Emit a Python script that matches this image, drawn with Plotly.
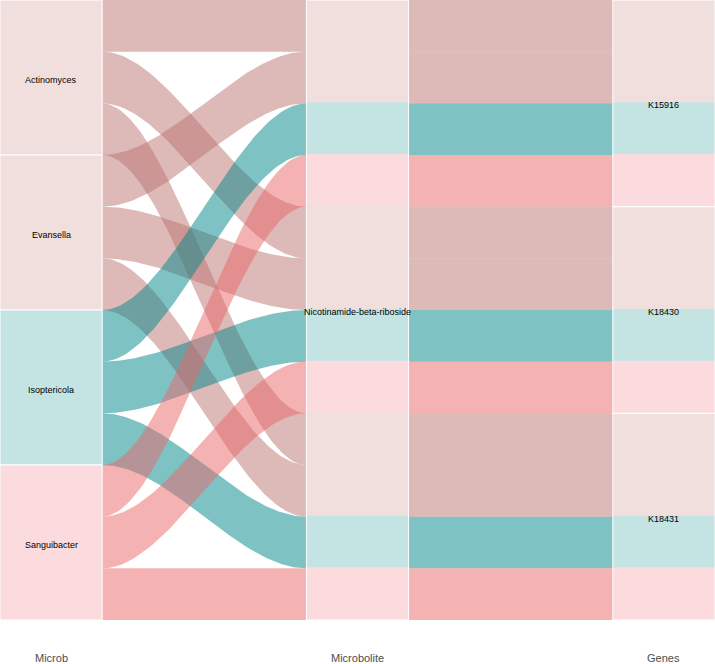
import numpy as np
import plotly.graph_objects as go

# ---------------- data ----------------
axes_names = ["Microb", "Microbolite", "Genes"]
microbes = ["Actinomyces", "Evansella", "Isoptericola", "Sanguibacter"]
microbolites = ["Nicotinamide-beta-riboside"]
genes = ["K15916", "K18430", "K18431"]
# one flow for every microbe x gene combination, weight 1
flow_microb = ["Actinomyces"] * 3 + ["Evansella"] * 3 + ["Isoptericola"] * 3 + ["Sanguibacter"] * 3
flow_gene = ["K15916", "K18430", "K18431"] * 4
flow_weight = [1] * 12
microb_group = {"Actinomyces": "A", "Evansella": "A", "Isoptericola": "B", "Sanguibacter": "C"}

# ---------------- styles ----------------
flow_col = {"A": "rgba(187,115,113,0.5)", "B": "rgba(0,133,137,0.5)", "C": "rgba(233,101,103,0.5)"}
strat_col = {"A": "#F0DFDD", "B": "#C4E4E4", "C": "#FBDBDD"}
W = 1 / 3  # stratum width
FONT = "Liberation Sans, Arial, sans-serif"

n = len(flow_weight)
total = sum(flow_weight)

order1 = sorted(range(n), key=lambda i: (microbes.index(flow_microb[i]), genes.index(flow_gene[i])))
order23 = sorted(range(n), key=lambda i: (genes.index(flow_gene[i]), microbes.index(flow_microb[i])))

def cum(order):
    pos = {}
    y = 0
    for i in order:
        pos[i] = (y, y + flow_weight[i])
        y += flow_weight[i]
    return pos

p1 = cum(order1)
p23 = cum(order23)

fig = go.Figure()

def sig(t):
    return t * t * (3 - 2 * t)

t = np.linspace(0, 1, 80)
xa0, xa1 = 1 + W / 2, 2 - W / 2
xb0, xb1 = 2 + W / 2, 3 - W / 2

for i in order1:
    g = microb_group[flow_microb[i]]
    (a0, a1), (b0, b1) = p1[i], p23[i]
    s = sig(t)
    xs = xa0 + (xa1 - xa0) * t
    top = a0 + (b0 - a0) * s
    bot = a1 + (b1 - a1) * s
    X = np.concatenate([xs, xs[::-1]])
    Y = np.concatenate([top, bot[::-1]])
    fig.add_trace(go.Scatter(x=X, y=Y, fill="toself", mode="lines", line=dict(width=0),
                             fillcolor=flow_col[g], hoverinfo="skip", showlegend=False))

for i in order23:
    g = microb_group[flow_microb[i]]
    b0, b1 = p23[i]
    fig.add_trace(go.Scatter(x=[xb0, xb1, xb1, xb0, xb0], y=[b0, b0, b1, b1, b0], fill="toself",
                             mode="lines", line=dict(width=0), fillcolor=flow_col[g],
                             hoverinfo="skip", showlegend=False))

shapes = []
annotations = []
LAB = dict(family=FONT, size=9, color="black")
YS = -2

y = 0
for m in microbes:
    h = sum(flow_weight[i] for i in range(n) if flow_microb[i] == m)
    shapes.append(dict(type="rect", xref="x", yref="y", x0=1 - W / 2, x1=1 + W / 2, y0=y, y1=y + h,
                       fillcolor=strat_col[microb_group[m]], line=dict(color="white", width=1), layer="above"))
    annotations.append(dict(x=1, y=y + h / 2, xref="x", yref="y", text=m, showarrow=False, font=LAB, yshift=YS))
    y += h

eps = 0.02
for ax in (2, 3):
    for i in order23:
        b0, b1 = p23[i]
        shapes.append(dict(type="rect", xref="x", yref="y", x0=ax - W / 2, x1=ax + W / 2,
                           y0=max(0, b0 - eps), y1=min(total, b1 + eps),
                           fillcolor=strat_col[microb_group[flow_microb[i]]], line=dict(width=0), layer="above"))

shapes.append(dict(type="rect", xref="x", yref="y", x0=2 - W / 2, x1=2 + W / 2, y0=0, y1=total,
                   line=dict(color="white", width=1), layer="above"))
annotations.append(dict(x=2, y=total / 2, xref="x", yref="y", text=microbolites[0], showarrow=False,
                        font=LAB, yshift=YS))

y = 0
for gname in genes:
    h = sum(flow_weight[i] for i in range(n) if flow_gene[i] == gname)
    shapes.append(dict(type="rect", xref="x", yref="y", x0=3 - W / 2, x1=3 + W / 2, y0=y, y1=y + h,
                       line=dict(color="white", width=1), layer="above"))
    annotations.append(dict(x=3, y=y + h / 2, xref="x", yref="y", text=gname, showarrow=False,
                            font=LAB, yshift=YS))
    y += h

for k, name in enumerate(axes_names):
    annotations.append(dict(x=k + 1, y=0, xref="x", yref="paper", yanchor="middle", yshift=-38,
                            text=name, showarrow=False, font=dict(family=FONT, size=11, color="#4D4D4D")))

fig.update_layout(
    width=715, height=664,
    margin=dict(l=0, r=0, t=0, b=44),
    plot_bgcolor="white", paper_bgcolor="white",
    xaxis=dict(range=[1 - W / 2, 3 + W / 2], showgrid=False, zeroline=False, showticklabels=False,
               ticks="", fixedrange=True),
    yaxis=dict(range=[total, 0], showgrid=False, zeroline=False, showticklabels=False,
               ticks="", fixedrange=True),
    shapes=shapes, annotations=annotations, showlegend=False,
)

fig.write_html("out.html")
